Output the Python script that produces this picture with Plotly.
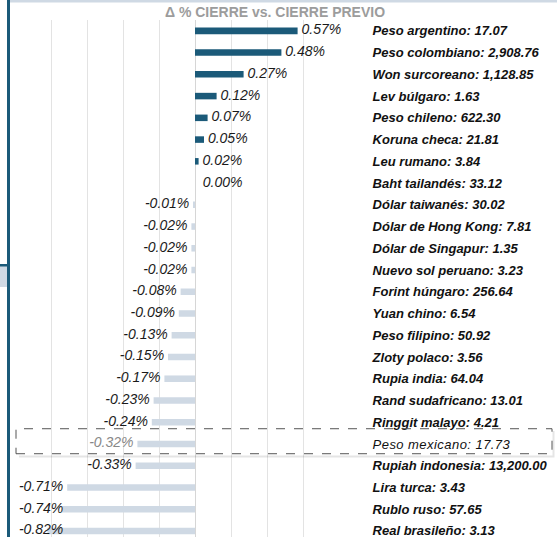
import plotly.graph_objects as go

currencies = ["Peso argentino", "Peso colombiano", "Won surcoreano", "Lev búlgaro", "Peso chileno",
              "Koruna checa", "Leu rumano", "Baht tailandés", "Dólar taiwanés", "Dólar de Hong Kong",
              "Dólar de Singapur", "Nuevo sol peruano", "Forint húngaro", "Yuan chino", "Peso filipino",
              "Zloty polaco", "Rupia india", "Rand sudafricano", "Ringgit malayo", "Peso mexicano",
              "Rupiah indonesia", "Lira turca", "Rublo ruso", "Real brasileño"]
rates = ["17.07", "2,908.76", "1,128.85", "1.63", "622.30", "21.81", "3.84", "33.12", "30.02", "7.81",
         "1.35", "3.23", "256.64", "6.54", "50.92", "3.56", "64.04", "13.01", "4.21", "17.73",
         "13,200.00", "3.43", "57.65", "3.13"]
pct_change = [0.57, 0.48, 0.27, 0.12, 0.07, 0.05, 0.02, 0.00, -0.01, -0.02, -0.02, -0.02, -0.08, -0.09,
              -0.13, -0.15, -0.17, -0.23, -0.24, -0.32, -0.33, -0.71, -0.74, -0.82]
highlight = "Peso mexicano"
title_text = "Δ % CIERRE vs. CIERRE PREVIO"

POS = "#1b5a79"
NEG = "#cfd9e4"
FONT = "Liberation Sans, Arial, sans-serif"
LABEL_FLOOR = -0.71   # value labels are not pushed further left than this
GAP = "\u00a0"

bar_colors = [POS if v > 0 else NEG for v in pct_change]
text_colors = ["#888888" if c == highlight else "#1a1a1a" for c in currencies]
value_text = [(f"{GAP}{v:.2f}%" if v > 0 else (f"{GAP}{GAP}{v:.2f}%" if v == 0 else f"{v:.2f}%{GAP}"))
              for v in pct_change]
label_x = [max(v, LABEL_FLOOR) for v in pct_change]
label_pos = ["middle right" if v >= 0 else "middle left" for v in pct_change]
ticktext = [
    (f"<span style='letter-spacing:0.45px'><i>{c}: {r}</i></span>" if c == highlight
     else f"<b><i>{c}: {r}</i></b>")
    for c, r in zip(currencies, rates)
]

fig = go.Figure()
fig.add_trace(go.Bar(
    x=pct_change, y=currencies, orientation="h",
    marker=dict(color=bar_colors, line=dict(width=0)),
    width=0.3,
    hoverinfo="skip",
))
fig.add_trace(go.Scatter(
    x=label_x, y=currencies, mode="text",
    text=value_text, textposition=label_pos,
    textfont=dict(family=FONT, size=14, style="italic", color=text_colors),
    cliponaxis=False, hoverinfo="skip",
))

W, H = 557, 537
ml, mr, mt, mb = 15, 218, 20, 0
pw, ph = W - ml - mr, H - mt - mb

def px_x(p):
    return (p - ml) / pw

def px_y(p):
    return (H - mb - p) / ph

fig.update_layout(
    width=W, height=H,
    margin=dict(l=ml, r=mr, t=mt, b=mb, pad=0),
    paper_bgcolor="white", plot_bgcolor="white",
    showlegend=False,
    title=dict(text=f"<b>{title_text}</b>", x=275 / W, xref="container", xanchor="center",
               y=1 - 12 / H, yref="container", yanchor="middle",
               font=dict(family=FONT, size=14, color="#9c9c9c")),
    xaxis=dict(range=[-1.0, 0.8], dtick=0.2, tick0=0, showticklabels=False, showgrid=True,
               gridcolor="#e3e3e3", gridwidth=1, zeroline=True, zerolinecolor="#d6d6d6",
               zerolinewidth=1, showline=False, fixedrange=True),
    yaxis=dict(categoryorder="array", categoryarray=currencies, range=[23.28, -0.5],
               side="right", tickmode="array", tickvals=currencies, ticktext=ticktext,
               ticks="outside", ticklen=30, tickcolor="rgba(0,0,0,0)",
               tickfont=dict(family=FONT, size=13, color="#111111"),
               showgrid=False, showline=False, fixedrange=True),
    shapes=[
        # top light band
        dict(type="rect", xref="paper", yref="paper", x0=px_x(9), x1=px_x(W), y0=px_y(2.5), y1=px_y(0),
             fillcolor="#cfd9e4", line=dict(width=0), layer="below"),
        # left dark vertical bar
        dict(type="rect", xref="paper", yref="paper", x0=px_x(7), x1=px_x(10), y0=px_y(H), y1=px_y(0),
             fillcolor=POS, line=dict(width=0), layer="above"),
        # left small block
        dict(type="rect", xref="paper", yref="paper", x0=px_x(0), x1=px_x(7), y0=px_y(287), y1=px_y(266),
             fillcolor="#cfd9e4", line=dict(width=0)),
        dict(type="rect", xref="paper", yref="paper", x0=px_x(0), x1=px_x(7), y0=px_y(266.5), y1=px_y(264),
             fillcolor=POS, line=dict(width=0)),
        # highlight shadow (bottom and right edges)
        dict(type="path", xref="paper", yref="paper",
             path=(f"M {px_x(19)},{px_y(456.5)} L {px_x(553.5)},{px_y(456.5)} "
                   f"L {px_x(553.5)},{px_y(431)}"),
             line=dict(color="rgba(0,0,0,0.10)", width=2)),
        # highlight dashed box
        dict(type="rect", xref="paper", yref="y", x0=px_x(16), x1=px_x(552), y0=19.45, y1=18.3,
             fillcolor="rgba(0,0,0,0)", line=dict(color="#555555", width=1, dash="dash")),
    ],
)

fig.write_html("out.html", config={"displayModeBar": False},
               post_script="document.body.style.margin='0';")
